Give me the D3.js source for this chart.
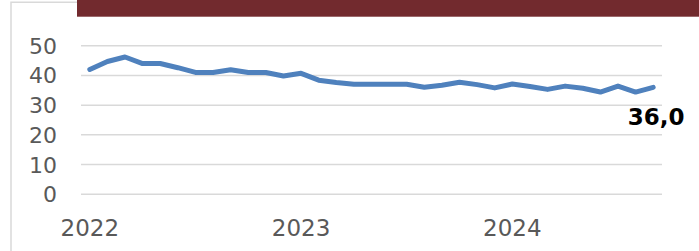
<!DOCTYPE html>
<html>
<head>
<meta charset="utf-8">
<script src="https://cdn.jsdelivr.net/npm/d3@7"></script>
<style>
  html, body { margin: 0; padding: 0; background: #fff; }
  svg { display: block; }
</style>
</head>
<body>
<svg id="chart" width="699" height="251"></svg>
<script>
// ---- data ----
const months = d3.range(33).map(i => new Date(2022, i, 1)); // Jan 2022 .. Sep 2024
const values = [42, 44.7, 46.2, 44, 44, 42.6, 41, 41, 41.9, 41, 41, 39.8, 40.7,
                38.4, 37.6, 37, 37, 37, 37, 36, 36.7, 37.7, 36.9, 35.8, 37.1,
                36.3, 35.3, 36.4, 35.7, 34.4, 36.4, 34.4, 36.0];
const yTicks = [0, 10, 20, 30, 40, 50];
const yearLabels = ["2022", "2023", "2024"];
const lastLabel = "36,0";

// ---- layout ----
const svg = d3.select("#chart");
const plotLeft = 81, plotRight = 662, plotTop = 45.7, plotBottom = 194.3;

const x = d3.scalePoint().domain(d3.range(values.length)).range([plotLeft, plotRight]).padding(0.5);
const y = d3.scaleLinear().domain([0, 50]).range([plotBottom, plotTop]);

// outer frame
svg.append("path")
  .attr("d", "M11,251 L11,2.3 L80,2.3")
  .attr("fill", "none").attr("stroke", "#d9d9d9").attr("stroke-width", 1.5);

// title banner
svg.append("rect").attr("x", 77).attr("y", 0).attr("width", 699 - 77).attr("height", 16.7)
  .attr("fill", "#722a2e");

// gridlines
svg.append("g").selectAll("line").data(yTicks).join("line")
  .attr("x1", plotLeft).attr("x2", plotRight)
  .attr("y1", d => y(d)).attr("y2", d => y(d))
  .attr("stroke", "#d9d9d9").attr("stroke-width", 1.5);

// y axis labels
svg.append("g").selectAll("text").data(yTicks).join("text")
  .attr("x", 57).attr("y", d => y(d)).attr("dy", "0.36em")
  .attr("text-anchor", "end")
  .attr("font-family", "DejaVu Sans, Verdana, sans-serif")
  .attr("font-size", 22).attr("fill", "#595959")
  .text(d => d);

// x axis year labels (at January of each year)
svg.append("g").selectAll("text").data(yearLabels).join("text")
  .attr("x", (d, i) => x(i * 12))
  .attr("y", 236)
  .attr("text-anchor", "middle")
  .attr("font-family", "DejaVu Sans, Verdana, sans-serif")
  .attr("font-size", 23).attr("fill", "#595959")
  .text(d => d);

// line
const line = d3.line().x((d, i) => x(i)).y(d => y(d));
svg.append("path").datum(values)
  .attr("d", line)
  .attr("fill", "none").attr("stroke", "#4f81bd").attr("stroke-width", 5)
  .attr("stroke-linejoin", "round").attr("stroke-linecap", "round");

// last value label
const li = values.length - 1;
svg.append("text")
  .attr("x", x(li) + 3).attr("y", y(values[li]) + 38)
  .attr("text-anchor", "middle")
  .attr("font-family", "DejaVu Sans, Verdana, sans-serif")
  .attr("font-size", 23).attr("font-weight", "bold").attr("fill", "#000")
  .text(lastLabel);
</script>
</body>
</html>
